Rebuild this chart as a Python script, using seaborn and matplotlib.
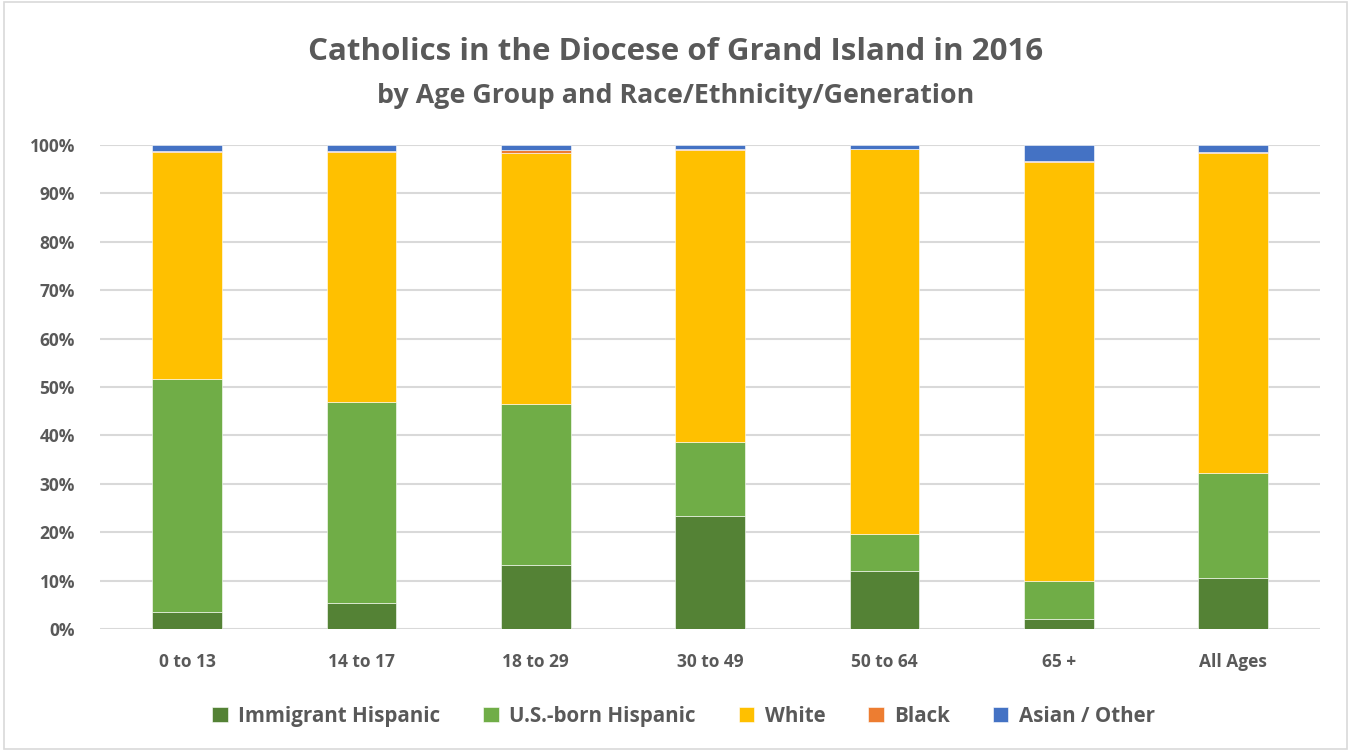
import numpy as np
import pandas as pd
import matplotlib
matplotlib.use("Agg")
import matplotlib.pyplot as plt
import seaborn as sns
from matplotlib.patches import Rectangle

sns.set_style("white")
plt.rcParams["font.family"] = ["Open Sans", "DejaVu Sans"]

# data (percent of each age group)
ages = ["0 to 13", "14 to 17", "18 to 29", "30 to 49", "50 to 64", "65 +", "All Ages"]
immigrant_hisp = [3.5, 5.4, 13.3, 23.4, 11.9, 2.0, 10.6]
usborn_hisp = [48.1, 41.4, 33.1, 15.2, 7.7, 7.9, 21.7]
white = [46.85, 51.7, 51.9, 60.35, 79.5, 86.65, 65.95]
black = [0.35, 0.2, 0.7, 0.3, 0.1, 0.05, 0.35]
asian_other = [1.2, 1.3, 1.0, 0.75, 0.8, 3.4, 1.4]
series_names = ["Immigrant Hispanic", "U.S.-born Hispanic", "White", "Black", "Asian / Other"]
colors = ["#548235", "#70AD47", "#FFC000", "#ED7D31", "#4472C4"]
pct_ticks = [0, 10, 20, 30, 40, 50, 60, 70, 80, 90, 100]
pct_labels = ["0%", "10%", "20%", "30%", "40%", "50%", "60%", "70%", "80%", "90%", "100%"]

txt = "#595959"
fig = plt.figure(figsize=(13.51, 7.51), dpi=100)
ax = fig.add_axes([0.074, 0.1625, 0.9034, 0.6445])

base = np.zeros(len(ages))
for name, vals, col in zip(series_names, [immigrant_hisp, usborn_hisp, white, black, asian_other], colors):
    df = pd.DataFrame({"age": ages, "pct": vals})
    sns.barplot(data=df, x="age", y="pct", bottom=base, color=col, saturation=1, width=0.4,
                label=name, edgecolor="white", linewidth=0.4, ax=ax, zorder=3)
    base = base + np.array(vals)

ax.set_ylim(0, 100)
ax.set_xlim(-0.5, len(ages) - 0.5)
ax.set_yticks(pct_ticks)
ax.set_yticklabels(pct_labels)
ax.yaxis.grid(True, color="#d9d9d9", linewidth=1.5, zorder=0)
ax.set_axisbelow(True)
for s in ax.spines.values():
    s.set_visible(False)
ax.set_xlabel("")
ax.set_ylabel("")
ax.tick_params(axis="y", length=0, pad=18, labelsize=12.5, labelcolor=txt)
ax.tick_params(axis="x", length=0, pad=17, labelsize=12.5, labelcolor=txt)
for lbl in ax.get_xticklabels() + ax.get_yticklabels():
    lbl.set_fontweight("bold")

if ax.legend_:
    ax.legend_.remove()
handles, labels = ax.get_legend_handles_labels()
fig.legend(handles, labels, loc="center", bbox_to_anchor=(0.506, 0.046), ncol=5, frameon=False,
           handlelength=0.75, handleheight=0.75, columnspacing=2.1, handletextpad=0.5,
           prop={"weight": "bold", "size": 14.8})
for t in fig.legends[0].get_texts():
    t.set_color(txt)

fig.text(0.5, 1 - 52 / 751, "Catholics in the Diocese of Grand Island in 2016",
         ha="center", va="center", fontsize=22.5, fontweight="bold", color=txt)
fig.text(0.5, 1 - 96 / 751, "by Age Group and Race/Ethnicity/Generation",
         ha="center", va="center", fontsize=19.3, fontweight="bold", color=txt)

fig.patches.append(Rectangle((0.003, 0.003), 0.994, 0.994, transform=fig.transFigure,
                             fill=False, edgecolor="#d9d9d9", linewidth=1.2))

fig.savefig("out.png", dpi=100)
